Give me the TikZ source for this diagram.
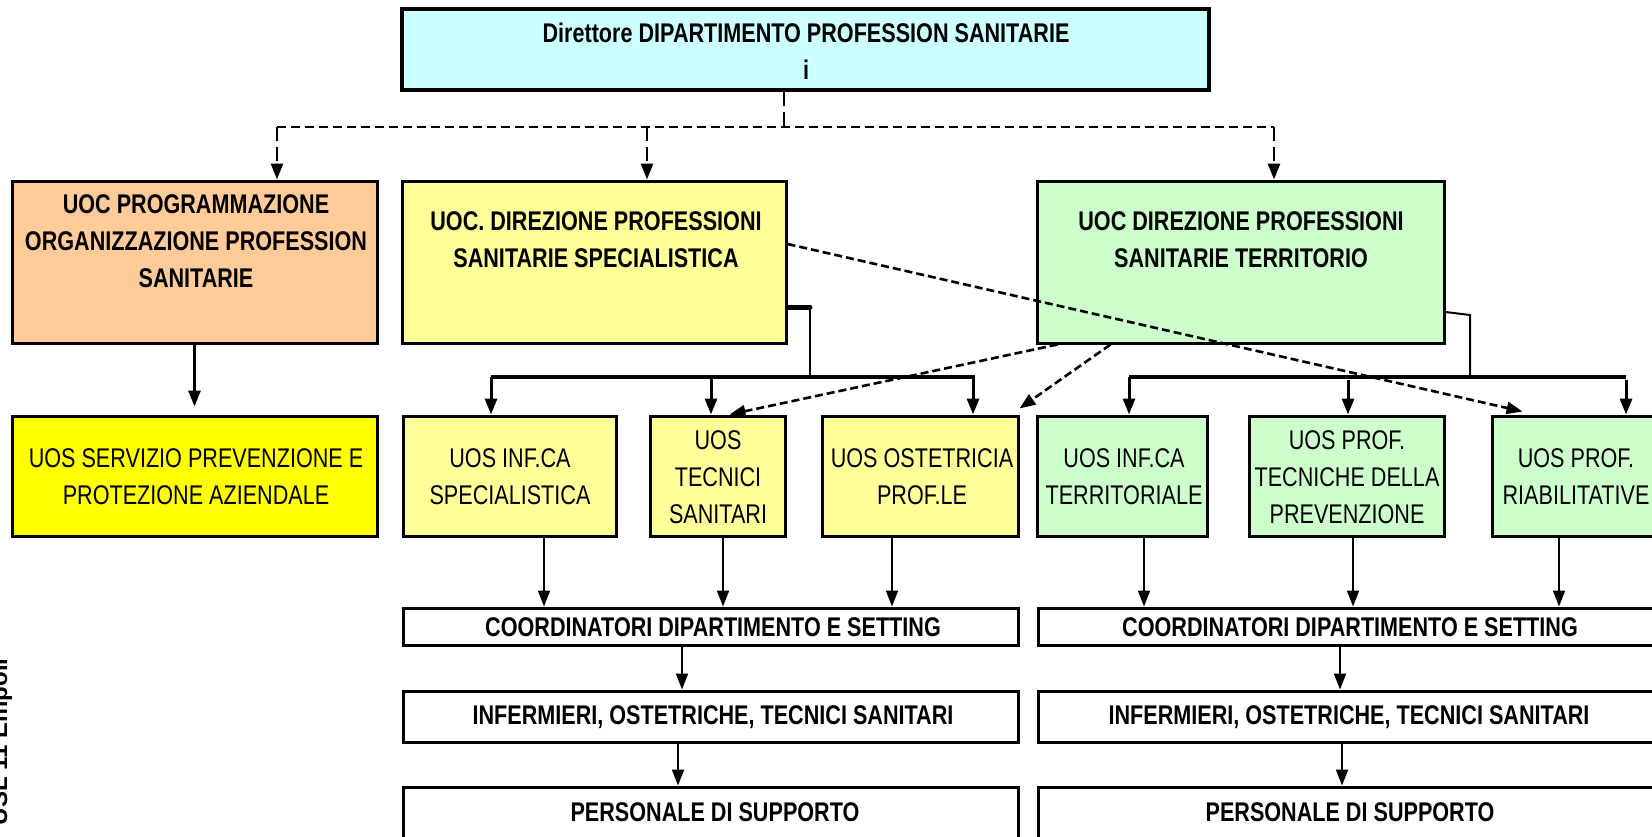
\documentclass[tikz,border=0pt]{standalone}
\usepackage{fontspec}
\setmainfont{Liberation Sans}
\newfontfamily\cf[FakeStretch=0.8]{Liberation Sans}
\usetikzlibrary{arrows.meta,fit}
\definecolor{cyanb}{HTML}{CCFFFF}
\definecolor{orangeb}{HTML}{FFCC99}
\definecolor{yellowb}{HTML}{FFFF99}
\definecolor{yellows}{HTML}{FFFF00}
\definecolor{greenb}{HTML}{CCFFCC}
\begin{document}
\begin{tikzpicture}[x=0.5pt,y=-0.5pt,
  bx/.style={draw, line width=1.5pt, inner sep=0pt},
  tx/.style={align=center, inner sep=0pt, font=\cf\fontsize{13.5}{18.5}\selectfont},
  tb/.style={align=center, inner sep=0pt, font=\cf\bfseries\fontsize{13.5}{18.5}\selectfont},
  arr/.style={-{Triangle[length=8pt,width=6pt]}},
  dsh/.style={line width=1.4pt, dash pattern=on 4.5pt off 2.5pt},
  dsv/.style={line width=1.3pt, dash pattern=on 7pt off 3pt},
  dsd/.style={line width=1.3pt, dash pattern=on 4pt off 2pt},
  thk/.style={line width=1.5pt},
  thn/.style={line width=1pt},
  bar/.style={line width=1.8pt}]
\useasboundingbox (0,0) rectangle (1652,836);
\clip (0,0) rectangle (1652,836);
\fill[white] (0,0) rectangle (1652,836);

% top
\node[bx, line width=2pt, fill=cyanb, fit={(402,9)(1209,90)}] (dir) {};
\node[tb] (dirt) at (806,51) {Direttore DIPARTIMENTO PROFESSION SANITARIE\\i};

% level 1
\node[bx, fill=orangeb, fit={(12,181)(377,343)}] (org) {};
\node[tb] (orgt) at (196,241) {UOC PROGRAMMAZIONE\\ORGANIZZAZIONE PROFESSION\\SANITARIE};
\node[bx, fill=yellowb, fit={(402,181)(786,343)}] (spec) {};
\node[tb] (spect) at (596,240) {UOC. DIREZIONE PROFESSIONI\\SANITARIE SPECIALISTICA};
\node[bx, fill=greenb, fit={(1037,181)(1444,343)}] (terr) {};
\node[tb] (terrt) at (1241,240) {UOC DIREZIONE PROFESSIONI\\SANITARIE TERRITORIO};

% level 2
\node[bx, fill=yellows, fit={(12,416)(377,536)}] (sprev) {};
\node[tx] (sprevt) at (196,477) {UOS SERVIZIO PREVENZIONE E\\PROTEZIONE AZIENDALE};
\node[bx, fill=yellowb, fit={(403,416)(616,536)}] (infspec) {};
\node[tx] (infspect) at (510,477) {UOS INF.CA\\SPECIALISTICA};
\node[bx, fill=yellowb, fit={(650,416)(785,536)}] (tecn) {};
\node[tx] (tecnt) at (718,477) {UOS\\TECNICI\\SANITARI};
\node[bx, fill=yellowb, fit={(822,416)(1018,536)}] (ostet) {};
\node[tx] (ostett) at (922,477) {UOS OSTETRICIA\\PROF.LE};
\node[bx, fill=greenb, fit={(1037,416)(1207,536)}] (infterr) {};
\node[tx] (infterrt) at (1124,477) {UOS INF.CA\\TERRITORIALE};
\node[bx, fill=greenb, fit={(1249,416)(1444,536)}] (prev) {};
\node[tx] (prevt) at (1347,477) {UOS PROF.\\TECNICHE DELLA\\PREVENZIONE};
\node[bx, fill=greenb, fit={(1492,416)(1662,536)}] (riab) {};
\node[tx] (riabt) at (1576,477) {UOS PROF.\\RIABILITATIVE};

% bottom rows
\node[bx, fit={(403,608)(1018,645)}] (coordL) {};
\node[tb] (coordLt) at (713,627) {COORDINATORI DIPARTIMENTO E SETTING};
\node[bx, fit={(1038,608)(1662,645)}] (coordR) {};
\node[tb] (coordRt) at (1350,627) {COORDINATORI DIPARTIMENTO E SETTING};
\node[bx, fit={(403,691)(1018,742)}] (infL) {};
\node[tb] (infLt) at (713,717) {INFERMIERI, OSTETRICHE, TECNICI SANITARI};
\node[bx, fit={(1038,691)(1662,742)}] (infR) {};
\node[tb] (infRt) at (1349,717) {INFERMIERI, OSTETRICHE, TECNICI SANITARI};
\node[bx, fit={(403,787)(1018,880)}] (persL) {};
\node[tb] (persLt) at (715,812) {PERSONALE DI SUPPORTO};
\node[bx, fit={(1038,787)(1662,880)}] (persR) {};
\node[tb] (persRt) at (1350,812) {PERSONALE DI SUPPORTO};

% side text
\node[rotate=90, anchor=base east, inner sep=0pt, font=\bfseries\fontsize{12}{14}\selectfont] (usl) at (7,658) {USL 11 Empoli};

% dashed connectors from top
\coordinate (j0) at (784,127);
\coordinate (jl) at (277,127);
\coordinate (jm) at (647,127);
\coordinate (jr) at (1274,127);
\draw[dsv] (j0 |- dir.south) -- (j0);
\draw[dsh] (jl) -- (jr);
\draw[dsv, arr] (jl) -- (jl |- org.north);
\draw[dsv, arr] (jm) -- (jm |- spec.north);
\draw[dsv, arr] (jr) -- (jr |- terr.north);

% org -> sprev
\draw[thk, arr, shorten >=4pt] (org.south) -- (sprev.north);

% spec tree
\coordinate (ys) at (810,307);
\coordinate (bL) at (491,377);
\coordinate (bLe) at (975,377);
\coordinate (a2) at (711,377);
\coordinate (a3) at (973,377);
\draw[line width=2.5pt, line cap=round] ([yshift=-22.5pt]spec.east) -- (ys);
\draw[thn] (ys) -- (ys |- bL);
\draw[bar] (bL) -- (bLe);
\draw[thk, arr] (bL) -- (bL |- infspec.north);
\draw[thk, arr] (a2) -- (a2 |- tecn.north);
\draw[thk, arr] (a3) -- (a3 |- ostet.north);

% terr tree
\coordinate (gs) at (1470,315);
\coordinate (bRl) at (1129,377);
\coordinate (bRr) at (1626,377);
\coordinate (a5) at (1348,380);
\coordinate (a6) at (1626,380);
\draw[thn] ([yshift=-25pt]terr.east) -- (gs) -- (gs |- bRl);
\draw[bar] (bRl) -- (bRr);
\draw[thk, arr] (bRl) -- (bRl |- infterr.north);
\draw[thk, arr] (a5) -- (a5 |- prev.north);
\draw[thk, arr] (a6) -- (a6 |- riab.north);

% diagonal dashed arrows
\draw[dsd, arr] ([yshift=9pt]spec.east) -- ([xshift=16pt,yshift=1.5pt]riab.north west);
\draw[dsd, arr] ([xshift=11pt]terr.south west) -- ([xshift=-28.5pt]tecn.north east);
\draw[dsd, arr] ([xshift=37.5pt]terr.south west) -- ([yshift=3pt]ostet.north east);

% level 2 -> coordinators
\coordinate (v1) at (544,0);
\coordinate (v2) at (723,0);
\coordinate (v3) at (892,0);
\coordinate (v4) at (1144,0);
\coordinate (v5) at (1353,0);
\coordinate (v6) at (1559,0);
\draw[thn, arr] (v1 |- infspec.south) -- (v1 |- coordL.north);
\draw[thn, arr] (v2 |- tecn.south) -- (v2 |- coordL.north);
\draw[thn, arr] (v3 |- ostet.south) -- (v3 |- coordL.north);
\draw[thn, arr] (v4 |- infterr.south) -- (v4 |- coordR.north);
\draw[thn, arr] (v5 |- prev.south) -- (v5 |- coordR.north);
\draw[thn, arr] (v6 |- riab.south) -- (v6 |- coordR.north);

% coordinators -> infermieri -> personale
\coordinate (w1) at (682,0);
\coordinate (w2) at (1340,0);
\coordinate (u1) at (678,0);
\coordinate (u2) at (1342,0);
\draw[thn, arr] (w1 |- coordL.south) -- (w1 |- infL.north);
\draw[thn, arr] (w2 |- coordR.south) -- (w2 |- infR.north);
\draw[thn, arr] (u1 |- infL.south) -- (u1 |- persL.north);
\draw[thn, arr] (u2 |- infR.south) -- (u2 |- persR.north);
\end{tikzpicture}
\end{document}
